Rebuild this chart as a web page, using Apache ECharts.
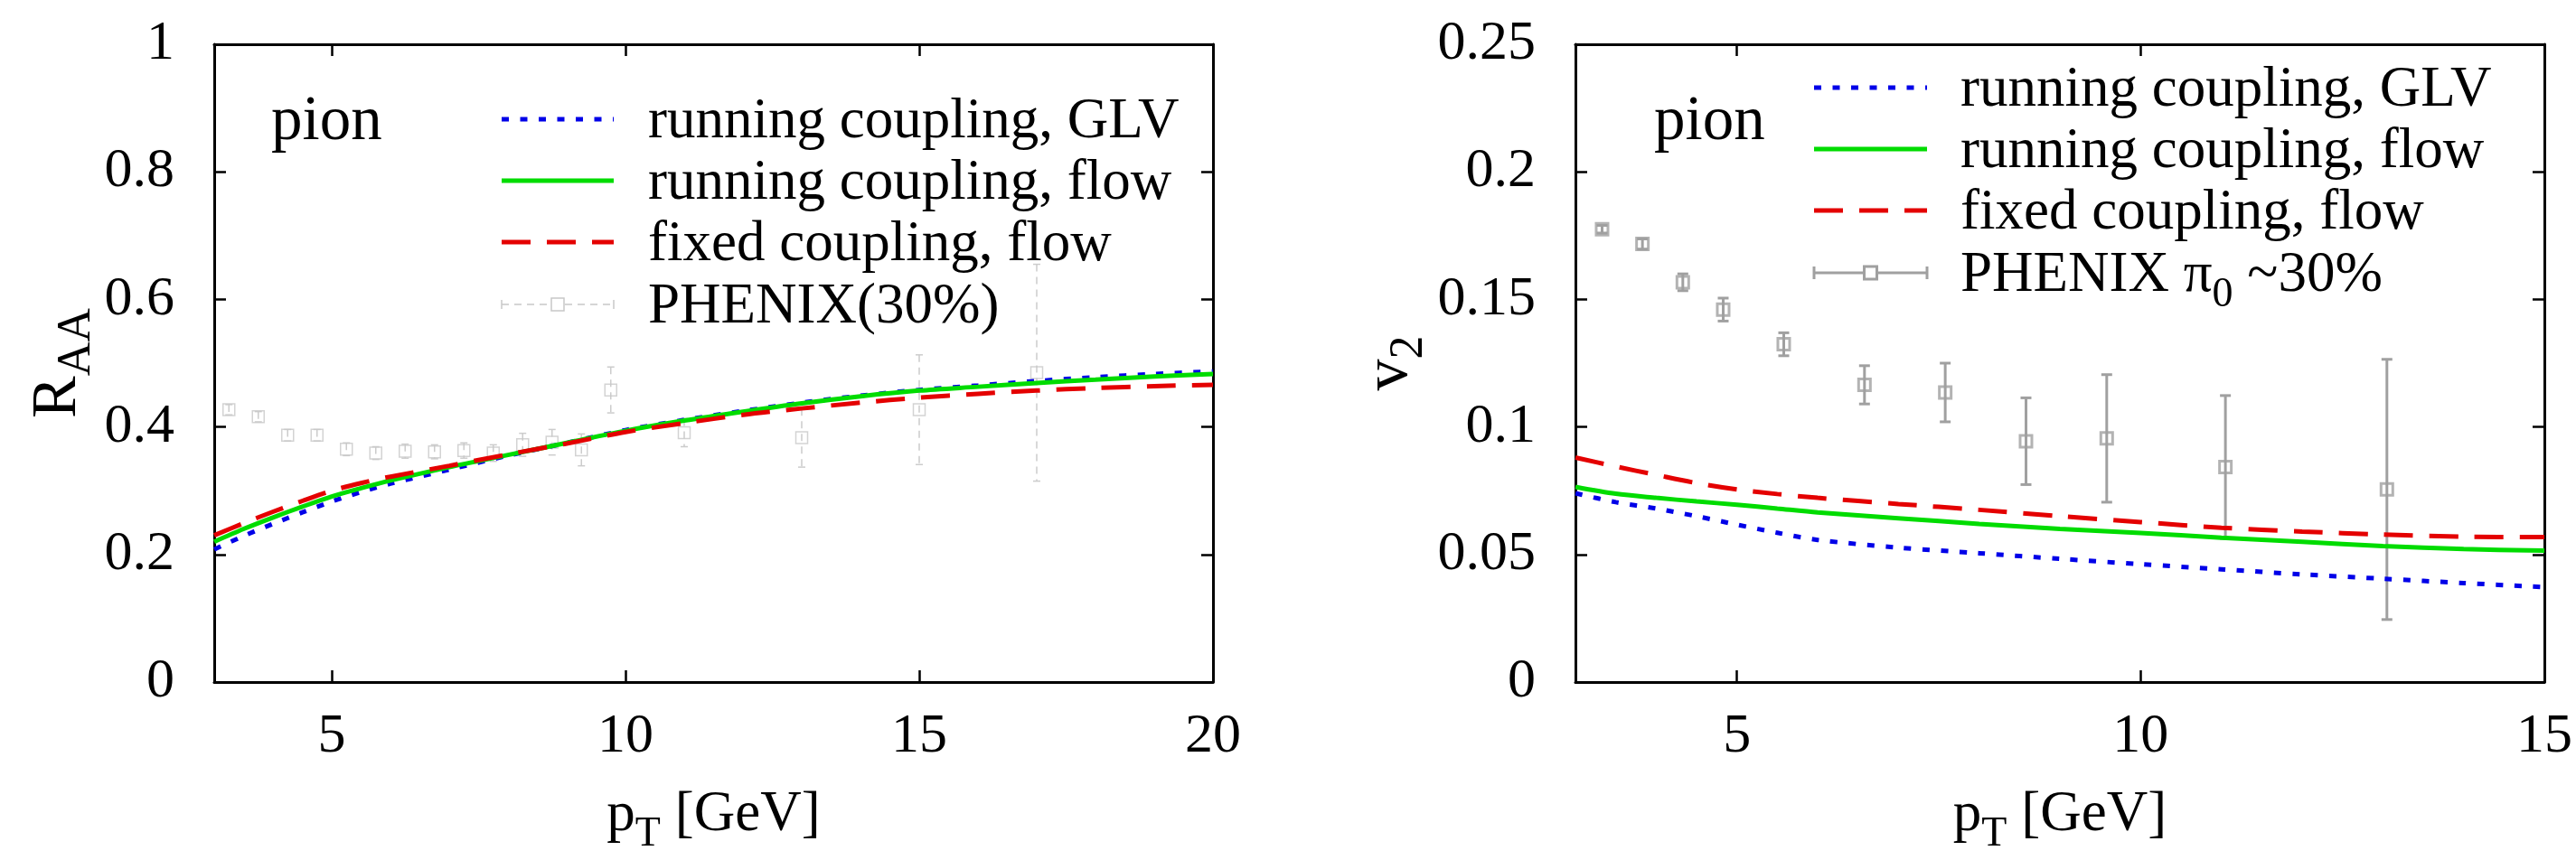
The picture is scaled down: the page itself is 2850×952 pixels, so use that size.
<!DOCTYPE html>
<html>
<head>
<meta charset="utf-8">
<script src="https://cdn.jsdelivr.net/npm/echarts@6/dist/echarts.min.js"></script>
<style>
  html, body { margin: 0; padding: 0; background: #fff; }
  #chart { width: 2850px; height: 952px; }
</style>
</head>
<body>
<div id="chart"></div>
<script>
// R_AA panel (left): model curves
var ptL = [3, 3.5, 4, 4.5, 5, 5.5, 6, 7, 8, 9, 10, 11, 12, 13, 14, 15, 16, 17, 18, 19, 20];
var glvL = [0.208, 0.229, 0.248, 0.266, 0.283, 0.298, 0.311, 0.333, 0.355, 0.375, 0.395, 0.411, 0.425, 0.438, 0.449, 0.458, 0.465, 0.472, 0.478, 0.483, 0.487];
var runFlowL = [0.220, 0.240, 0.258, 0.275, 0.291, 0.304, 0.316, 0.337, 0.356, 0.375, 0.394, 0.410, 0.424, 0.437, 0.448, 0.457, 0.463, 0.469, 0.474, 0.479, 0.483];
var fixFlowL = [0.230, 0.249, 0.267, 0.284, 0.300, 0.312, 0.322, 0.339, 0.357, 0.374, 0.392, 0.406, 0.419, 0.429, 0.438, 0.446, 0.452, 0.457, 0.461, 0.464, 0.466];

// R_AA panel: PHENIX 30% data
var phxPtL = [3.25, 3.75, 4.25, 4.75, 5.25, 5.75, 6.25, 6.75, 7.25, 7.75, 8.25, 8.75, 9.25, 9.75, 11, 13, 15, 17];
var phxRaa = [0.427, 0.416, 0.387, 0.387, 0.365, 0.359, 0.362, 0.361, 0.363, 0.359, 0.372, 0.376, 0.364, 0.458, 0.391, 0.383, 0.427, 0.485];
var phxRaaErr = [0.008, 0.008, 0.009, 0.009, 0.010, 0.010, 0.011, 0.011, 0.012, 0.013, 0.018, 0.020, 0.025, 0.036, 0.022, 0.046, 0.086, 0.170];

// v2 panel (right): model curves
var ptR = [3, 3.5, 4, 4.5, 5, 5.5, 6, 7, 8, 9, 10, 11, 12, 13, 14, 15];
var glvR = [0.0740, 0.0705, 0.0680, 0.0650, 0.0617, 0.0585, 0.0557, 0.0527, 0.0505, 0.0483, 0.0462, 0.0442, 0.0422, 0.0405, 0.0388, 0.0372];
var runFlowR = [0.0765, 0.0738, 0.0722, 0.0708, 0.0695, 0.0680, 0.0665, 0.0642, 0.0620, 0.0600, 0.0584, 0.0566, 0.0550, 0.0533, 0.0521, 0.0515];
var fixFlowR = [0.0880, 0.0845, 0.0812, 0.0780, 0.0755, 0.0737, 0.0722, 0.0698, 0.0675, 0.0650, 0.0627, 0.0605, 0.0590, 0.0578, 0.0570, 0.0568];

// v2 panel: PHENIX pi0 ~30%
var phxPtR = [3.33, 3.83, 4.33, 4.83, 5.58, 6.58, 7.58, 8.58, 9.58, 11.05, 13.05];
var phxV2 = [0.1775, 0.1717, 0.1567, 0.1460, 0.1324, 0.1165, 0.1135, 0.0944, 0.0955, 0.0843, 0.0755];
var phxV2Err = [0.0015, 0.0020, 0.0033, 0.0045, 0.0045, 0.0075, 0.0115, 0.0170, 0.0250, 0.0280, 0.0510];

// tick labels
var xTicksL = [5, 10, 15, 20];
var xTicksR = [5, 10, 15];

var legendNames = ["running coupling, GLV", "running coupling, flow", "fixed coupling, flow"];

var FONT = "Liberation Serif";
var BLUE = "#0000e8", GREEN = "#00dc00", RED = "#e40000";

function pairs(xs, ys) {
  return xs.map(function (x, i) { return [x, ys[i]]; });
}
function triples(xs, ys, es) {
  return xs.map(function (x, i) { return [x, ys[i], es[i]]; });
}

function subRich(big, small, drop) {
  return {
    m: { fontFamily: FONT, fontSize: big, lineHeight: big, color: "#000", verticalAlign: "top" },
    s: { fontFamily: FONT, fontSize: small, lineHeight: small, color: "#000", verticalAlign: "top", padding: [drop, 0, 0, 0] }
  };
}

// bottom+top x axes for one panel (box with inside ticks)
function xAxes(grid, max, ticks) {
  var line = { show: true, onZero: false, lineStyle: { color: "#000", width: 3 } };
  var tick = { show: true, inside: true, length: 13, customValues: ticks, lineStyle: { color: "#000", width: 2.5 } };
  return [
    {
      gridIndex: grid, type: "value", position: "bottom", min: 3, max: max,
      axisLine: line, axisTick: tick, splitLine: { show: false },
      axisLabel: { customValues: ticks, margin: 30, color: "#000", fontFamily: FONT, fontSize: 62 },
      name: "{m|p}{s|T}{m| [GeV]}", nameLocation: "middle", nameGap: 116,
      nameTextStyle: { rich: subRich(63, 46, 30) }
    },
    {
      gridIndex: grid, type: "value", position: "top", min: 3, max: max,
      axisLine: line, axisTick: tick, splitLine: { show: false }, axisLabel: { show: false }
    }
  ];
}

function yAxes(grid, max, step, name, gap) {
  var line = { show: true, onZero: false, lineStyle: { color: "#000", width: 3 } };
  var tick = { show: true, inside: true, length: 13, lineStyle: { color: "#000", width: 2.5 } };
  return [
    {
      gridIndex: grid, type: "value", position: "left", min: 0, max: max, interval: step,
      axisLine: line, axisTick: tick, splitLine: { show: false },
      axisLabel: {
        margin: 44, color: "#000", fontFamily: FONT, fontSize: 62,
        formatter: function (v) { return String(+v.toFixed(2)); }
      },
      name: name, nameLocation: "middle", nameRotate: 90, nameGap: gap,
      nameTextStyle: { rich: subRich(70, 52, 30) }
    },
    {
      gridIndex: grid, type: "value", position: "right", min: 0, max: max, interval: step,
      axisLine: line, axisTick: tick, splitLine: { show: false }, axisLabel: { show: false }
    }
  ];
}

function curve(name, data, xi, color, type, width) {
  return {
    name: name, type: "line", xAxisIndex: xi, yAxisIndex: xi,
    data: data, showSymbol: false, smooth: 0.3, silent: true,
    lineStyle: { color: color, width: width, type: type, cap: "butt" }
  };
}

// vertical error bars with caps, drawn through the axis scales
function errorBars(style, capHalf) {
  return function (params, api) {
    var x = api.value(0), y = api.value(1), e = api.value(2);
    var hi = api.coord([x, y + e]);
    var lo = api.coord([x, y - e]);
    return {
      type: "group",
      children: [
        { type: "line", shape: { x1: hi[0], y1: hi[1], x2: lo[0], y2: lo[1] }, style: style },
        { type: "line", shape: { x1: hi[0] - capHalf, y1: hi[1], x2: hi[0] + capHalf, y2: hi[1] }, style: style },
        { type: "line", shape: { x1: lo[0] - capHalf, y1: lo[1], x2: lo[0] + capHalf, y2: lo[1] }, style: style }
      ]
    };
  };
}

// legend rows (graphic, gnuplot style: sample left, text right)
function legendRows(x1, x2, tx, ys, phxColor, phxDash, phxWidth, capH, phxText) {
  var styles = [
    { stroke: BLUE, lineWidth: 5, lineDash: [8, 12.5] },
    { stroke: GREEN, lineWidth: 5 },
    { stroke: RED, lineWidth: 5, lineDash: [32, 18] }
  ];
  var out = [];
  for (var i = 0; i < 3; i++) {
    out.push({ type: "line", shape: { x1: x1, y1: ys[i], x2: x2, y2: ys[i] }, style: styles[i] });
    out.push({
      type: "text", x: tx, y: ys[i] + 3,
      style: { text: legendNames[i], fontFamily: FONT, fontSize: 63, fill: "#000", verticalAlign: "middle" }
    });
  }
  var y = ys[3], mid = (x1 + x2) / 2;
  var st = { stroke: phxColor, lineWidth: phxWidth, lineDash: phxDash };
  out.push({ type: "line", shape: { x1: x1, y1: y, x2: x2, y2: y }, style: st });
  out.push({ type: "line", shape: { x1: x1, y1: y - capH, x2: x1, y2: y + capH }, style: { stroke: phxColor, lineWidth: phxWidth } });
  out.push({ type: "line", shape: { x1: x2, y1: y - capH, x2: x2, y2: y + capH }, style: { stroke: phxColor, lineWidth: phxWidth } });
  out.push({ type: "rect", shape: { x: mid - 7, y: y - 7, width: 14, height: 14 }, style: { fill: "#fff", stroke: phxColor, lineWidth: phxWidth } });
  out.push({
    type: "text", x: tx, y: y + 3,
    style: { text: phxText, rich: subRich(63, 46, 30), fontFamily: FONT, fontSize: 63, fill: "#000", verticalAlign: "middle" }
  });
  return out;
}

var graphic = []
  .concat(legendRows(555, 679, 717, [132, 200, 268, 337], "#c8c8c8", [8, 6], 1.5, 5, "{m|PHENIX(30%)}"))
  .concat(legendRows(2007, 2132, 2169, [97, 165, 233, 302], "#a0a0a0", null, 3, 7, "{m|PHENIX π}{s|0}{m| ~30%}"))
  .concat([
    { type: "text", x: 300, y: 136, style: { text: "pion", fontFamily: FONT, fontSize: 69, fill: "#000", verticalAlign: "middle" } },
    { type: "text", x: 1830, y: 136, style: { text: "pion", fontFamily: FONT, fontSize: 69, fill: "#000", verticalAlign: "middle" } }
  ]);

var chart = echarts.init(document.getElementById("chart"), null, { renderer: "canvas" });

var option = {
  backgroundColor: "#fff",
  animation: false,
  grid: [
    { left: 237, top: 49, width: 1105, height: 706 },
    { left: 1743, top: 49, width: 1072, height: 706 }
  ],
  xAxis: xAxes(0, 20, xTicksL).concat(xAxes(1, 15, xTicksR)),
  yAxis: yAxes(0, 1, 0.2, "{m|R}{s|AA}", 136).concat(yAxes(1, 0.25, 0.05, "{m|v}{s|2}", 170)),
  graphic: graphic,
  series: [
    // left: data under the curves
    {
      type: "custom", xAxisIndex: 0, yAxisIndex: 0, silent: true,
      data: triples(phxPtL, phxRaa, phxRaaErr), encode: { x: 0, y: 1 },
      renderItem: errorBars({ stroke: "#cccccc", lineWidth: 1.5, lineDash: [8, 6] }, 4)
    },
    {
      type: "scatter", xAxisIndex: 0, yAxisIndex: 0, silent: true,
      data: pairs(phxPtL, phxRaa), symbol: "rect", symbolSize: 13,
      itemStyle: { color: "rgba(0,0,0,0)", borderColor: "#c8c8c8", borderWidth: 1.5 }
    },
    curve(legendNames[0], pairs(ptL, glvL), 0, BLUE, [8, 12.5], 5),
    curve(legendNames[1], pairs(ptL, runFlowL), 0, GREEN, "solid", 5),
    curve(legendNames[2], pairs(ptL, fixFlowL), 0, RED, [32, 18], 5),
    // right: curves under the data
    curve(legendNames[0], pairs(ptR, glvR), 2, BLUE, [8, 12.5], 5),
    curve(legendNames[1], pairs(ptR, runFlowR), 2, GREEN, "solid", 5),
    curve(legendNames[2], pairs(ptR, fixFlowR), 2, RED, [32, 18], 5),
    {
      type: "custom", xAxisIndex: 2, yAxisIndex: 2, silent: true,
      data: triples(phxPtR, phxV2, phxV2Err), encode: { x: 0, y: 1 },
      renderItem: errorBars({ stroke: "#a0a0a0", lineWidth: 3 }, 6)
    },
    {
      type: "scatter", xAxisIndex: 2, yAxisIndex: 2, silent: true,
      data: pairs(phxPtR, phxV2), symbol: "rect", symbolSize: 13,
      itemStyle: { color: "rgba(0,0,0,0)", borderColor: "#a0a0a0", borderWidth: 3 }
    }
  ]
};

chart.setOption(option);
</script>
</body>
</html>
